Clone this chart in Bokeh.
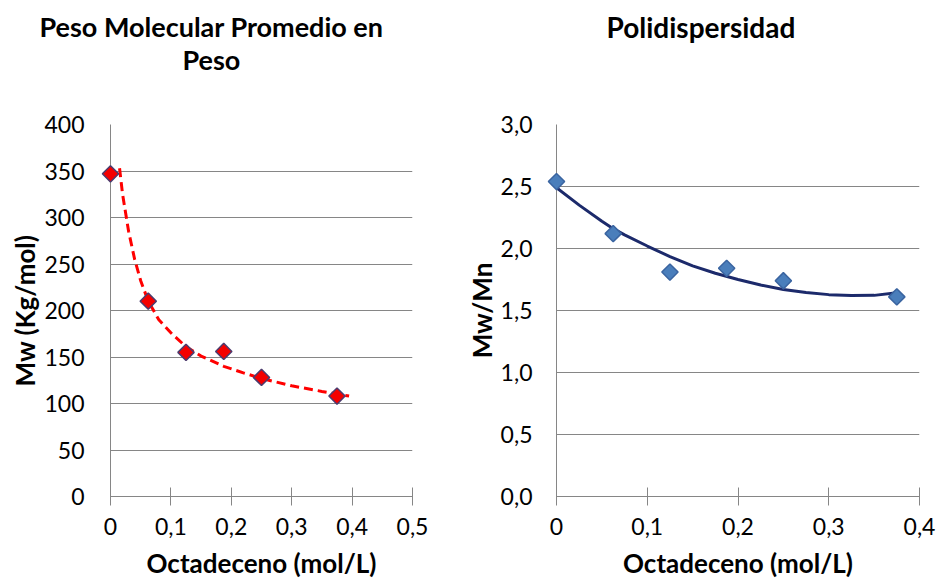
from bokeh.plotting import figure
from bokeh.layouts import row
from bokeh.models import FixedTicker, Title, Range1d
from bokeh.embed import file_html
from bokeh.resources import INLINE
import numpy as np

# ---- data ----
octadeceno = [0, 0.0625, 0.125, 0.1875, 0.25, 0.375]
mw = [347, 210, 155, 156, 128, 108]
pdi = [2.54, 2.12, 1.81, 1.84, 1.74, 1.61]

mw_trend_x = [0.015, 0.02, 0.03, 0.04, 0.05, 0.0625, 0.08, 0.10, 0.125, 0.15, 0.1875, 0.22, 0.25, 0.30, 0.35, 0.395]
mw_trend_y = [353, 325, 285, 255, 232, 210, 190, 176, 161, 151, 140, 133, 127, 119, 113, 108]

pdi_trend_x = [0, 0.025, 0.05, 0.0625, 0.075, 0.1, 0.125, 0.15, 0.175, 0.2, 0.225, 0.25, 0.275, 0.3, 0.325, 0.35, 0.375]
pdi_trend_y = [2.49, 2.35, 2.22, 2.16, 2.11, 2.02, 1.935, 1.86, 1.80, 1.75, 1.705, 1.67, 1.645, 1.628, 1.62, 1.622, 1.643]

left_x_ticks = [0, 0.1, 0.2, 0.3, 0.4, 0.5]
left_x_labels = ["0", "0,1", "0,2", "0,3", "0,4", "0,5"]
left_y_ticks = [0, 50, 100, 150, 200, 250, 300, 350, 400]
left_y_labels = ["0", "50", "100", "150", "200", "250", "300", "350", "400"]

right_x_ticks = [0, 0.1, 0.2, 0.3, 0.4]
right_x_labels = ["0", "0,1", "0,2", "0,3", "0,4"]
right_y_ticks = [0, 0.5, 1.0, 1.5, 2.0, 2.5, 3.0]
right_y_labels = ["0,0", "0,5", "1,0", "1,5", "2,0", "2,5", "3,0"]

FONT = "Lato"
GRAY = "#868686"


def style(p, xt, xl, yt, yl, x_std, x_lab_std, y_std, y_lab_std):
    p.outline_line_color = None
    p.xgrid.grid_line_color = None
    p.ygrid.grid_line_color = GRAY
    p.ygrid.ticker = FixedTicker(ticks=yt)
    p.xaxis.ticker = FixedTicker(ticks=xt)
    p.yaxis.ticker = FixedTicker(ticks=yt)
    p.xaxis.major_label_overrides = {t: l for t, l in zip(xt, xl)}
    p.yaxis.major_label_overrides = {t: l for t, l in zip(yt, yl)}
    for ax in (p.xaxis[0], p.yaxis[0]):
        ax.axis_line_color = GRAY
        ax.major_tick_line_color = GRAY
        ax.minor_tick_line_color = None
        ax.major_label_text_font = FONT
        ax.major_label_text_font_size = "23px"
        ax.major_label_text_color = "black"
        ax.axis_label_text_font = FONT
        ax.axis_label_text_font_size = "26px"
        ax.axis_label_text_font_style = "bold"
        ax.axis_label_text_color = "black"
    p.xaxis.major_tick_in = 9
    p.xaxis.major_tick_out = 9
    p.xaxis.major_label_standoff = x_std
    p.xaxis.axis_label_standoff = x_lab_std
    p.yaxis.major_tick_in = 0
    p.yaxis.major_tick_out = 0
    p.yaxis.major_label_standoff = y_std
    p.yaxis.axis_label_standoff = y_lab_std


def add_title(p, text, offset, standoff, size):
    p.add_layout(Title(text=text, align="left", offset=offset, standoff=standoff,
                       text_font=FONT, text_font_size=size, text_font_style="bold",
                       text_color="black"), "above")


# ---- left chart ----
p1 = figure(width=460, height=586, output_backend="svg", toolbar_location=None,
            x_range=Range1d(0, 0.5), y_range=Range1d(0, 400),
            min_border_left=110, min_border_right=48, min_border_top=0, min_border_bottom=90,
            x_axis_label="Octadeceno (mol/L)", y_axis_label="Mw (Kg/mol)")
style(p1, left_x_ticks, left_x_labels, left_y_ticks, left_y_labels, 12, 9, 26, 0)
add_title(p1, " ", 0, 22, "26px")                       # spacer next to the plot area
add_title(p1, "Peso", 72, -15, "27px")
add_title(p1, "Peso Molecular Promedio en", -71, 12, "27px")
p1.line(mw_trend_x, mw_trend_y, line_color="#ff0000", line_width=3, line_dash="9 5")
p1.scatter(octadeceno, mw, marker="square", angle=np.pi / 4, size=11.5,
           fill_color="#f40000", line_color="#4b3b6e", line_width=1.5, level="overlay")

# ---- right chart ----
p2 = figure(width=478, height=586, output_backend="svg", toolbar_location=None,
            x_range=Range1d(0, 0.4), y_range=Range1d(0, 3.0),
            min_border_left=96, min_border_right=19, min_border_top=0, min_border_bottom=90,
            x_axis_label="Octadeceno (mol/L)", y_axis_label="Mw/Mn")
style(p2, right_x_ticks, right_x_labels, right_y_ticks, right_y_labels, 12, 9, 24, 0)
add_title(p2, " ", 0, 40, "26px")                       # spacer next to the plot area
add_title(p2, "Polidispersidad", 50, 14, "28px")
p2.line(pdi_trend_x, pdi_trend_y, line_color="#1c2a6b", line_width=3)
p2.scatter(octadeceno, pdi, marker="square", angle=np.pi / 4, size=11.5,
           fill_color="#4a7ebb", line_color="#3a64a0", line_width=1.5, level="overlay")

layout = row(p1, p2)
open("out.html", "w").write(file_html(layout, INLINE))
